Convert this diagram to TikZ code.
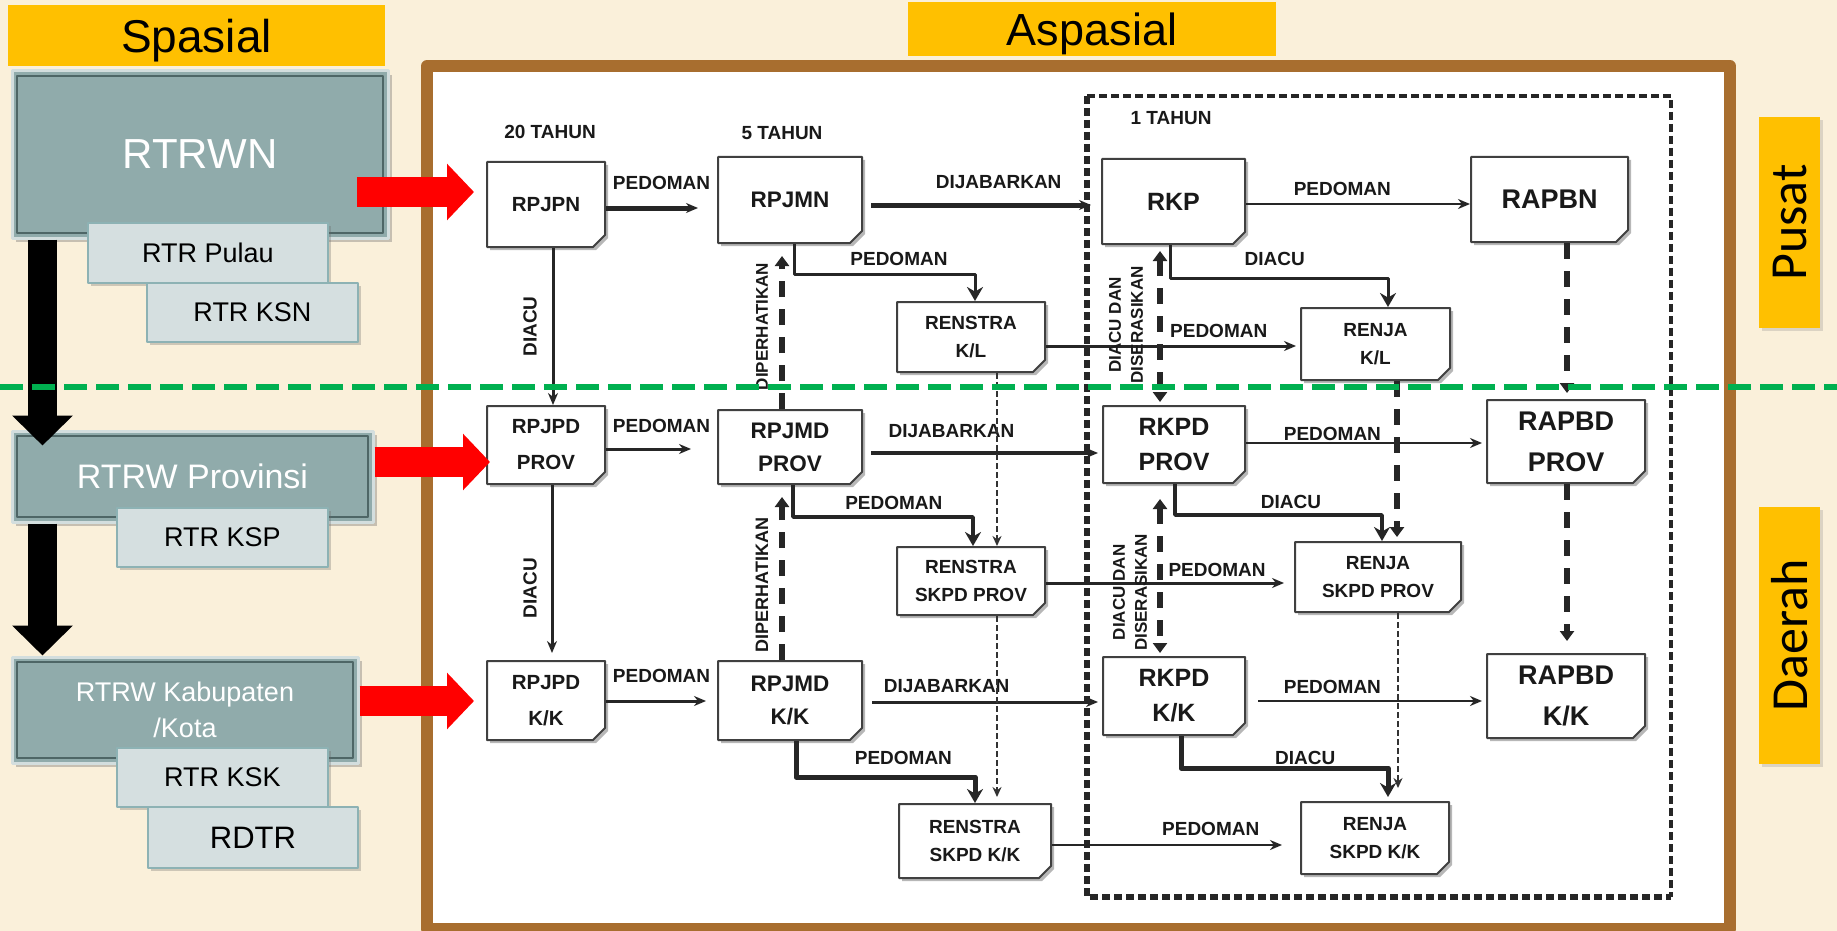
\documentclass[tikz,border=0pt]{standalone}
\usepackage{fontspec}
\setmainfont{Liberation Sans}
\newfontfamily\calibrifont{Carlito}
\usetikzlibrary{arrows.meta,shapes.misc,shadows}

\newdimen\upx \upx=0.5pt

\definecolor{parchment}{HTML}{FAF0DA}
\definecolor{headgold}{HTML}{FFC000}
\definecolor{brownframe}{HTML}{A86E2F}
\definecolor{rtrwfill}{HTML}{90ABAB}
\definecolor{rtrwline}{HTML}{4E6666}
\definecolor{rtrwedge}{HTML}{D3DEDE}
\definecolor{rtrfill}{HTML}{D5DFE0}
\definecolor{rtredge}{HTML}{8DB2B4}
\definecolor{zonegreen}{HTML}{00B050}

\tikzset{
  headbox/.style={fill=headgold, inner sep=0pt, text depth=0pt},
  rtrwbox/.style={fill=rtrwfill, draw=rtrwedge, line width=1.5pt, text=white, inner sep=0pt,
    drop shadow={shadow xshift=2pt, shadow yshift=-2pt, fill=black!60, opacity=.35},
    path picture={\draw[rtrwline, line width=.6pt]
      ([shift={(2.5pt,-2.5pt)}]path picture bounding box.north west) rectangle
      ([shift={(-2.5pt,2.5pt)}]path picture bounding box.south east);}},
  rtrbox/.style={fill=rtrfill, draw=rtredge, line width=1pt, inner sep=0pt, text depth=0pt,
    minimum width=211\upx, minimum height=59\upx, font=\fontsize{13.5}{16}\selectfont,
    drop shadow={shadow xshift=1.5pt, shadow yshift=-1.5pt, fill=black!60, opacity=.3}},
  docbox/.style={chamfered rectangle, chamfered rectangle corners=south east,
    chamfered rectangle xsep=3pt, chamfered rectangle ysep=3pt,
    draw=black!75, line width=1pt, fill=white, inner sep=0pt, align=center, text=black!90,
    drop shadow={shadow xshift=1.5pt, shadow yshift=-1.5pt, fill=black!40, opacity=.7}},
  rpjfont/.style={font=\fontsize{10.25}{18}\selectfont\bfseries},
  rpjmfont/.style={font=\fontsize{11.25}{16.5}\selectfont\bfseries},
  rkfont/.style={font=\fontsize{12.5}{17.5}\selectfont\bfseries},
  rapbfont/.style={font=\fontsize{13.5}{20.5}\selectfont\bfseries},
  renfont/.style={font=\fontsize{9.5}{14}\selectfont\bfseries},
  lbl/.style={font=\fontsize{9.5}{11}\selectfont\bfseries, inner sep=0pt, text depth=0pt, text=black!90},
  lblsmall/.style={font=\fontsize{8.5}{11}\selectfont\bfseries, inner sep=0pt, text depth=0pt, text=black!90},
  flow/.style={draw=black!85, -{Stealth[length=6pt, width=5pt]}},
  elbowflow/.style={draw=black!85, -{Stealth[length=7pt, width=8pt]}},
  linkdash/.style={draw=black!85, line width=3pt, dash pattern=on 8pt off 6pt},
  finedash/.style={draw=black!80, line width=1pt, dash pattern=on 3pt off 1.5pt, -{Stealth[length=5pt, width=4.5pt]}},
  redarrow/.style={draw=red, line width=15pt, -{Triangle[length=13.5pt, width=27.5pt]}},
  downarrow/.style={draw=black, line width=14.5pt, -{Triangle[length=15pt, width=29.5pt]}},
}

\begin{document}
\begin{tikzpicture}[x=0.5pt, y=-0.5pt, line join=round]
\useasboundingbox (0,0) rectangle (1837,931);
\clip (0,0) rectangle (1837,931);
\fill[parchment] (0,0) rectangle (1837,931);

% frame of the aspasial part
\draw[draw=brownframe, line width=6pt, fill=white] (427,66) rectangle (1730,929);

% headers
\node[headbox, minimum width=377\upx, minimum height=61\upx, font=\fontsize{23}{27}\selectfont] (spasial) at (196.5,35.5) {Spasial};
\node[headbox, minimum width=368\upx, minimum height=54\upx, font=\fontsize{22.5}{26}\selectfont] (aspasial) at (1092,29) {Aspasial};
\node[headbox, rotate=90, minimum width=211\upx, minimum height=61\upx, font=\calibrifont\fontsize{26}{30}\selectfont,
  drop shadow={shadow xshift=1.5pt, shadow yshift=-1.5pt, fill=black!50, opacity=.25}] (pusat) at (1789.5,222.5) {Pusat};
\node[headbox, rotate=90, minimum width=257\upx, minimum height=61\upx, font=\calibrifont\fontsize{26}{30}\selectfont,
  drop shadow={shadow xshift=1.5pt, shadow yshift=-1.5pt, fill=black!50, opacity=.25}] (daerah) at (1789.5,635.5) {Daerah};

% spasial column
\node[rtrwbox, minimum width=376\upx, minimum height=167\upx, font=\fontsize{21}{25}\selectfont] (rtrwn) at (200,154.5) {RTRWN};
\node[rtrbox, minimum width=240\upx, minimum height=60\upx] (pulau) at (208,253) {RTR Pulau};
\node[rtrbox] (ksn) at (252.5,312.5) {RTR KSN};

\node[rtrwbox, minimum width=361\upx, minimum height=91\upx, font=\fontsize{17}{20}\selectfont] (prov) at (192.5,476.5) {RTRW Provinsi};
\node[rtrbox] (ksp) at (222.5,537.5) {RTR KSP};

\node[rtrwbox, minimum width=346\upx, minimum height=106\upx, align=center, font=\fontsize{13.5}{18}\selectfont] (kab) at (185,710) {RTRW Kabupaten\\/Kota};
\node[rtrbox] (ksk) at (222.5,777.5) {RTR KSK};
\node[rtrbox, minimum width=210\upx, minimum height=61\upx, font=\fontsize{15.5}{18}\selectfont] (rdtr) at (253,837.5) {RDTR};

\draw[downarrow, shorten >=-8pt] (rtrwn.south -| 42.5,0) -- (prov.north -| 42.5,0);
\draw[downarrow] (prov.south -| 42.5,0) -- (kab.north -| 42.5,0);

% one-year block
\draw[black!85, line width=3pt, dash pattern=on 4pt off 2pt] (1087,96) -- (1087,897) -- (1671,897);
\draw[black!85, line width=2pt, dash pattern=on 4pt off 2pt] (1087,96) -- (1671,96) -- (1671,897);

\node[lbl] (y20) at (550,132) {20 TAHUN};
\node[lbl] (y5) at (782,133) {5 TAHUN};
\node[lbl] (y1) at (1171,118) {1 TAHUN};

% planning documents
\node[docbox, rpjfont, minimum width=118\upx, minimum height=85\upx] (rpjpn) at (546,204.5) {RPJPN};
\node[docbox, rpjmfont, minimum width=144\upx, minimum height=86\upx] (rpjmn) at (790,200) {RPJMN};
\node[docbox, rkfont, minimum width=143\upx, minimum height=85\upx] (rkp) at (1173.5,201.5) {RKP};
\node[docbox, rapbfont, minimum width=157\upx, minimum height=85\upx] (rapbn) at (1549.5,199.5) {RAPBN};
\node[docbox, renfont, minimum width=148\upx, minimum height=70\upx] (renkl) at (971,337) {RENSTRA\\K/L};
\node[docbox, renfont, minimum width=149\upx, minimum height=72\upx] (renjakl) at (1375.5,344) {RENJA\\K/L};

\node[docbox, rpjfont, minimum width=118\upx, minimum height=78\upx] (rpjpdp) at (546,445) {RPJPD\\PROV};
\node[docbox, rpjmfont, minimum width=144\upx, minimum height=74\upx] (rpjmdp) at (790,447) {RPJMD\\PROV};
\node[docbox, rkfont, minimum width=142\upx, minimum height=77\upx] (rkpdp) at (1174,444.5) {RKPD\\PROV};
\node[docbox, rapbfont, minimum width=158\upx, minimum height=83\upx] (rapbdp) at (1566,441.5) {RAPBD\\PROV};
\node[docbox, renfont, minimum width=148\upx, minimum height=68\upx] (renskp) at (971,581) {RENSTRA\\SKPD PROV};
\node[docbox, renfont, minimum width=166\upx, minimum height=70\upx] (renjaskp) at (1378,577) {RENJA\\SKPD PROV};

\node[docbox, rpjfont, minimum width=118\upx, minimum height=79\upx] (rpjpdk) at (546,700.5) {RPJPD\\K/K};
\node[docbox, rpjmfont, minimum width=144\upx, minimum height=79\upx] (rpjmdk) at (790,700.5) {RPJMD\\K/K};
\node[docbox, rkfont, minimum width=142\upx, minimum height=78\upx] (rkpdk) at (1174,696) {RKPD\\K/K};
\node[docbox, rapbfont, minimum width=158\upx, minimum height=84\upx] (rapbdk) at (1566,696) {RAPBD\\K/K};
\node[docbox, renfont, minimum width=152\upx, minimum height=74\upx] (rensk) at (975,841) {RENSTRA\\SKPD K/K};
\node[docbox, renfont, minimum width=148\upx, minimum height=72\upx] (renjask) at (1375,838) {RENJA\\SKPD K/K};

% pusat links
\draw[flow, line width=2.5pt, shorten >=9.5pt] (rpjpn.east |- 0,208) -- node[lbl, above=8pt] (pdm1) {PEDOMAN} (rpjmn.west |- 0,208);
\draw[flow, line width=2.5pt, shorten <=4pt, shorten >=5pt] (rpjmn.east |- 0,205) -- node[lbl, pos=.57, above=7pt] (djb1) {DIJABARKAN} (rkp.west |- 0,205);
\draw[flow, line width=1pt] (rkp.east |- 0,204) -- node[lbl, pos=.43, above=3.5pt] (pdm2) {PEDOMAN} (rapbn.west |- 0,204);
\draw[flow, line width=1.5pt] (rpjpn.south -| 553,0) -- node[lbl, xshift=-11.5pt, rotate=90] (dc1) {DIACU} (rpjpdp.north -| 553,0);
\draw[elbowflow, line width=1.5pt] (rpjmn.south -| 794,0) -- (794,274) -| node[lbl, pos=.29, above=3.5pt] (pdm3) {PEDOMAN} (renkl.north -| 975,0);
\draw[elbowflow, line width=1.5pt] (rkp.south -| 1170,0) -- (1170,278) -| node[lbl, pos=.24, above=5.5pt] (dc2) {DIACU} (renjakl.north -| 1388,0);
\draw[flow, line width=1.5pt, shorten >=2pt] (renkl.east |- 0,346) -- node[lbl, pos=.68, above=3.5pt] (pdm4) {PEDOMAN} (renjakl.west |- 0,346);

% provinsi links
\draw[flow, line width=1.5pt, shorten >=13pt] (rpjpdp.east |- 0,449) -- node[lbl, above=7.5pt] (pdm5) {PEDOMAN} (rpjmdp.west |- 0,449);
\draw[flow, line width=2.2pt, shorten <=4pt, shorten >=2pt] (rpjmdp.east |- 0,453) -- node[lbl, pos=.37, above=6.5pt] (djb2) {DIJABARKAN} (rkpdp.west |- 0,453);
\draw[flow, line width=1pt, shorten >=2pt] (rkpdp.east |- 0,443) -- node[lbl, pos=.36, above=1pt] (pdm6) {PEDOMAN} (rapbdp.west |- 0,443);
\draw[elbowflow, line width=1.8pt] (rpjmdp.south -| 793,0) -- (793,517) -| node[lbl, pos=.28, above=3pt] (pdm7) {PEDOMAN} (renskp.north -| 973,0);
\draw[elbowflow, line width=1.8pt] (rkpdp.south -| 1175,0) -- (1175,515) -| node[lbl, pos=.28, above=2.5pt] (dc3) {DIACU} (renjaskp.north -| 1382,0);
\draw[flow, line width=1.5pt, shorten >=5pt] (renskp.east |- 0,583) -- node[lbl, pos=.69, above=2.5pt] (pdm8) {PEDOMAN} (renjaskp.west |- 0,583);
\draw[flow, line width=1.5pt, shorten >=3.5pt] (rpjpdp.south -| 552,0) -- node[lbl, pos=.59, xshift=-11pt, rotate=90] (dc4) {DIACU} (rpjpdk.north -| 552,0);

% kabupaten/kota links
\draw[flow, line width=1.5pt, shorten >=5.5pt] (rpjpdk.east |- 0,701) -- node[lbl, above=8.5pt] (pdm9) {PEDOMAN} (rpjmdk.west |- 0,701);
\draw[flow, line width=1.5pt, shorten <=4.5pt, shorten >=2pt] (rpjmdk.east |- 0,702) -- node[lbl, pos=.35, above=4pt] (djb3) {DIJABARKAN} (rkpdk.west |- 0,702);
\draw[flow, line width=1pt, shorten <=6pt, shorten >=2pt] (rkpdk.east |- 0,701) -- node[lbl, pos=.36, above=3.5pt] (pdm10) {PEDOMAN} (rapbdk.west |- 0,701);
\draw[elbowflow, line width=2.5pt] (rpjmdk.south -| 796,0) -- (796,777) -| node[lbl, pos=.3, above=5pt] (pdm11) {PEDOMAN} (rensk.north -| 975,0);
\draw[elbowflow, line width=2.5pt, shorten >=2pt] (rkpdk.south -| 1181,0) -- (1181,768) -| node[lbl, pos=.3, above=.5pt] (dc5) {DIACU} (renjask.north -| 1388,0);
\draw[flow, line width=1.2pt, shorten >=9pt] (rensk.east |- 0,845) -- node[lbl, pos=.64, above=4pt] (pdm12) {PEDOMAN} (renjask.west |- 0,845);

% dashed links
\draw[linkdash, -{Triangle[length=5pt, width=7pt]}, shorten >=6pt] (rpjmdp.north -| 782,0) -- node[lblsmall, xshift=-10pt, rotate=90] (dph1) {DIPERHATIKAN} (rpjmn.south -| 782,0);
\draw[linkdash, -{Triangle[length=5pt, width=7pt]}, shorten >=6pt] (rpjmdk.north -| 782,0) -- node[lblsmall, font=\fontsize{9}{11}\selectfont\bfseries, pos=.43, xshift=-10pt, rotate=90] (dph2) {DIPERHATIKAN} (rpjmdp.south -| 782,0);
\draw[linkdash, {Triangle[length=5pt, width=7pt]}-{Triangle[length=5pt, width=7pt]}, shorten <=3pt, shorten >=1.5pt] (rkp.south -| 1160,0) -- node[lblsmall, align=center, xshift=-17pt, rotate=90] (dds1) {DIACU DAN\\DISERASIKAN} (rkpdp.north -| 1160,0);
\draw[linkdash, {Triangle[length=5pt, width=7pt]}-{Triangle[length=5pt, width=7pt]}, shorten <=7.5pt, shorten >=1.5pt] (rkpdp.south -| 1160,0) -- node[lblsmall, align=center, pos=.63, xshift=-15pt, rotate=90] (dds2) {DIACU DAN\\DISERASIKAN} (rkpdk.north -| 1160,0);
\draw[linkdash, -{Triangle[length=5pt, width=7pt]}, shorten >=3pt] (rapbn.south -| 1567,0) -- (rapbdp.north -| 1567,0);
\draw[linkdash, -{Triangle[length=5pt, width=7pt]}, shorten >=6pt] (rapbdp.south -| 1567,0) -- (rapbdk.north -| 1567,0);
\draw[linkdash, -{Triangle[length=5pt, width=7pt]}, shorten >=2pt] (renjakl.south -| 1397,0) -- (renjaskp.north -| 1397,0);
\draw[finedash] (renkl.south -| 997,0) -- (renskp.north -| 997,0);
\draw[finedash, shorten >=3pt] (renskp.south -| 997,0) -- (rensk.north -| 997,0);
\draw[finedash, shorten >=6.5pt] (renjaskp.south -| 1398,0) -- (renjask.north -| 1398,0);

% spasial to aspasial
\coordinate (src1) at (357,192);
\draw[redarrow, shorten >=6pt] (src1) -- (src1 -| rpjpn.west);
\draw[redarrow, shorten >=-2pt] (prov.east |- 0,462) -- (rpjpdp.west |- 0,462);
\draw[redarrow, shorten >=6pt] (kab.east |- 0,701) -- (rpjpdk.west |- 0,701);

% pusat / daerah divide
\draw[zonegreen, line width=3pt, dash pattern=on 11.5pt off 4.5pt] (0,387) -- (1837,387);
\end{tikzpicture}
\end{document}
